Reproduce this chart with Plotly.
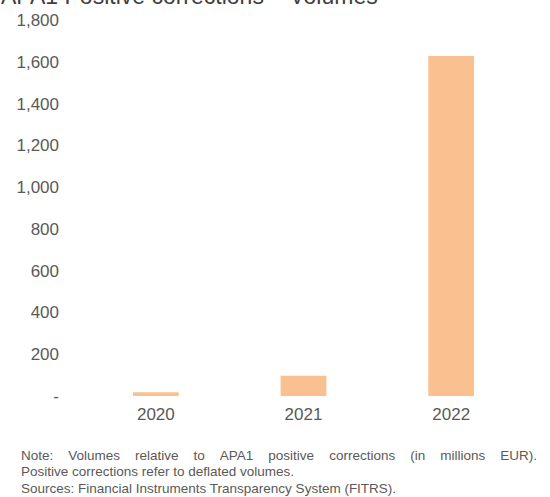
import plotly.graph_objects as go

# Volumes of APA1 positive corrections (millions EUR)
years = ["2020", "2021", "2022"]
volumes = [18, 97, 1628]

tick_values = [0, 200, 400, 600, 800, 1000, 1200, 1400, 1600, 1800]
tick_labels = ["-", "200", "400", "600", "800", "1,000", "1,200", "1,400", "1,600", "1,800"]

FONT = "Liberation Sans, Arial, sans-serif"
GREY = "#595959"

W, H = 550, 497
M_L, M_R, M_T, M_B = 82, 25, 20, 101
PW, PH = W - M_L - M_R, H - M_T - M_B

fig = go.Figure()
fig.add_trace(go.Bar(
    x=years,
    y=volumes,
    marker=dict(color="#FAC090", line=dict(width=0)),
    width=0.31,
))

fig.update_layout(
    width=W,
    height=H,
    margin=dict(l=M_L, r=M_R, t=M_T, b=M_B),
    paper_bgcolor="white",
    plot_bgcolor="white",
    showlegend=False,
    font=dict(family=FONT, color=GREY, size=17),
    xaxis=dict(
        showgrid=False, showline=False, zeroline=False, ticks="",
        ticklabelstandoff=6,
        tickfont=dict(size=17, color=GREY),
    ),
    yaxis=dict(
        range=[0, 1800],
        tickvals=tick_values, ticktext=tick_labels,
        showgrid=False, showline=False, zeroline=False, ticks="",
        ticklabelstandoff=22,
        tickfont=dict(size=17, color=GREY),
    ),
)

# Chart title at the very top of the canvas
fig.add_annotation(
    text="APA1 Positive corrections – Volumes",
    xref="paper", yref="paper",
    x=-(M_L + 1) / PW, y=1 + 24 / PH,
    xanchor="left", yanchor="middle", showarrow=False,
    font=dict(family=FONT, size=23, color="#404040"),
)

# Footnote; the first line is spread across the full width
wide_gap = " \u00a0\u00a0\u00a0"
note_lines = [
    wide_gap.join("Note: Volumes relative to APA1 positive corrections (in millions EUR).".split(" ")),
    "Positive corrections refer to deflated volumes.",
    "Sources: Financial Instruments Transparency System (FITRS).",
]
for i, line in enumerate(note_lines):
    fig.add_annotation(
        text=line, xref="paper", yref="paper",
        x=-(M_L - 19) / PW, y=-(455 - (H - M_B) + i * 16.5) / PH,
        xanchor="left", yanchor="middle", showarrow=False,
        font=dict(family=FONT, size=13.5, color=GREY),
    )

fig.write_html("out.html")
